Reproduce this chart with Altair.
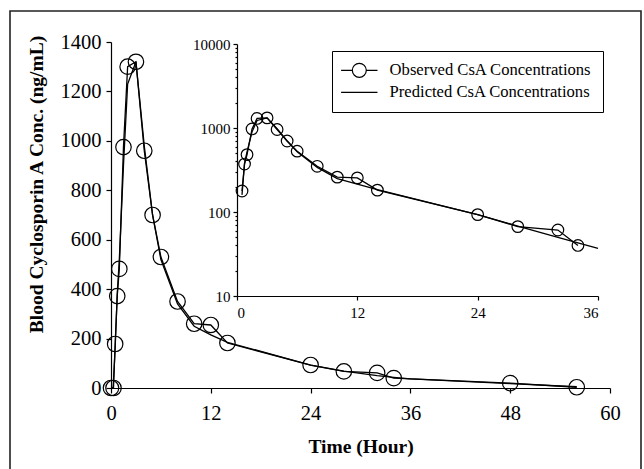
import altair as alt
import pandas as pd

# ---------------- data ----------------
obs_t = [0, 0.3, 0.5, 0.75, 1, 1.5, 2, 3, 4, 5, 6, 8, 10, 12, 14, 24, 28, 32, 34, 48, 56]
obs_c = [0, 0, 178, 372, 482, 975, 1300, 1320, 960, 700, 530, 350, 260, 255, 182, 93, 67, 61, 40, 20, 3]
pred_t = [0, 0.25, 0.5, 0.75, 1, 1.5, 2, 3, 4, 5, 6, 8, 10, 12, 14, 24, 28, 32, 34, 36, 48, 56]
pred_c = [0, 0, 160, 380, 520, 900, 1230, 1320, 980, 700, 520, 340, 250, 215, 185, 93, 68, 50, 43, 37, 18, 5]

series_names = ["Observed CsA Concentrations", "Predicted CsA Concentrations"]
x_ticks_main = [0, 12, 24, 36, 48, 60]
y_ticks_main = [0, 200, 400, 600, 800, 1000, 1200, 1400]
x_ticks_inset = [0, 12, 24, 36]
y_major_inset = [10, 100, 1000, 10000]
y_ticks_inset = [10, 20, 30, 40, 50, 60, 70, 80, 90,
                 100, 200, 300, 400, 500, 600, 700, 800, 900,
                 1000, 2000, 3000, 4000, 5000, 6000, 7000, 8000, 9000, 10000]

obs = pd.DataFrame({"t": obs_t, "c": obs_c, "series": series_names[0]})
pred = pd.DataFrame({"t": pred_t, "c": pred_c, "series": series_names[1]})
both = pd.concat([obs, pred], ignore_index=True)
obs_in = obs[(obs.t <= 36) & (obs.c > 0)]
both_in = both[(both.t <= 36) & (both.c > 0)]

FONT = "Liberation Serif"
W, H = 499, 346

axis_style = dict(domainColor="black", tickColor="black", labelColor="black",
                  titleColor="black", labelFont=FONT, titleFont=FONT,
                  domainWidth=1.2, tickWidth=1.2, grid=False)

major_test = "indexof([" + ",".join(str(v) for v in y_major_inset) + "], datum.value) >= 0"

# ---------------- main panel ----------------
xm = alt.X("t:Q", scale=alt.Scale(domain=[0, 60], nice=False),
           axis=alt.Axis(values=x_ticks_main, title="Time (Hour)", labelFontSize=20.5,
                         tickSize=5, labelPadding=10, titleFontSize=19.5, titleFontWeight="bold",
                         titlePadding=14, labelFlush=False, format="d", **axis_style))
ym = alt.Y("c:Q", scale=alt.Scale(domain=[0, 1400], nice=False),
           axis=alt.Axis(values=y_ticks_main, title="Blood Cyclosporin A Conc. (ng/mL)",
                         labelFontSize=20.5, tickSize=5, labelPadding=5, titleFontSize=19.5,
                         titleFontWeight="bold", titlePadding=14, titleY=142, format="d",
                         **axis_style))

main_lines = alt.Chart(both).mark_line(color="black", strokeWidth=1.3).encode(
    x=xm, y=ym, detail="series:N", order="t:Q")
main_pts = alt.Chart(obs).mark_point(shape="circle", size=240, color="black",
                                     strokeWidth=1.2, filled=False, opacity=1).encode(x=xm, y=ym)

path_obs = "M-2.6,0L-1,0M1,0L2.6,0M-1,0A1,1,0,1,1,1,0A1,1,0,1,1,-1,0"
path_pred = "M-2.6,0L2.6,0"
legend_layer = alt.Chart(both).mark_point(opacity=0, filled=False, color="black").encode(
    x=xm, y=ym,
    shape=alt.Shape("series:N",
                    scale=alt.Scale(domain=series_names, range=[path_obs, path_pred]),
                    legend=alt.Legend(title=None, orient="none", legendX=221, legendY=9,
                                      strokeColor="black", padding=11, cornerRadius=0,
                                      labelFont=FONT, labelFontSize=16.6, labelColor="black",
                                      symbolSize=196, symbolStrokeColor="black",
                                      symbolStrokeWidth=1.2, symbolFillColor="transparent",
                                      symbolOpacity=1, symbolOffset=8, labelOffset=22,
                                      rowPadding=4, labelLimit=400)))

main = alt.layer(main_lines, main_pts, legend_layer)

# ---------------- inset panel ----------------
xi = alt.X("t:Q", scale=alt.Scale(domain=[0, 36], range=[126, 487], nice=False),
           axis=alt.Axis(orient="bottom", offset=-92, values=x_ticks_inset, title=None,
                         labelFontSize=15, tickSize=4, labelPadding=5, **axis_style))
yi = alt.Y("c:Q", scale=alt.Scale(type="log", domain=[10, 10000], range=[254, 2], nice=False),
           axis=alt.Axis(orient="left", offset=-126, values=y_ticks_inset, title=None,
                         format="d", labelOverlap=False,
                         labelExpr=major_test + " ? datum.label : ''",
                         tickSize={"condition": {"test": major_test, "value": 4}, "value": 2},
                         labelFontSize=15, labelPadding=3, **axis_style))

inset_lines = alt.Chart(both_in).mark_line(color="black", strokeWidth=1.3).encode(
    x=xi, y=yi, detail="series:N", order="t:Q")
inset_pts = alt.Chart(obs_in).mark_point(shape="circle", size=135, color="black",
                                         strokeWidth=1.2, filled=False, opacity=1).encode(x=xi, y=yi)
inset = alt.layer(inset_lines, inset_pts)

# outer frame of the figure
frame = alt.Chart(pd.DataFrame({"a": [0]})).mark_rect(
    fillOpacity=0, stroke="#222222", strokeWidth=1.6).encode(
    x=alt.value(-101), x2=alt.value(530), y=alt.value(-31), y2=alt.value(440))

chart = alt.layer(frame, main, inset).resolve_scale(
    x="independent", y="independent"
).properties(
    width=W, height=H,
    autosize=alt.AutoSizeParams(type="none"),
    padding={"left": 111, "top": 42, "right": 34, "bottom": 81},
    background="white",
).configure_view(stroke=None)

chart.save("out.html", embed_options={"renderer": "svg", "actions": False})
